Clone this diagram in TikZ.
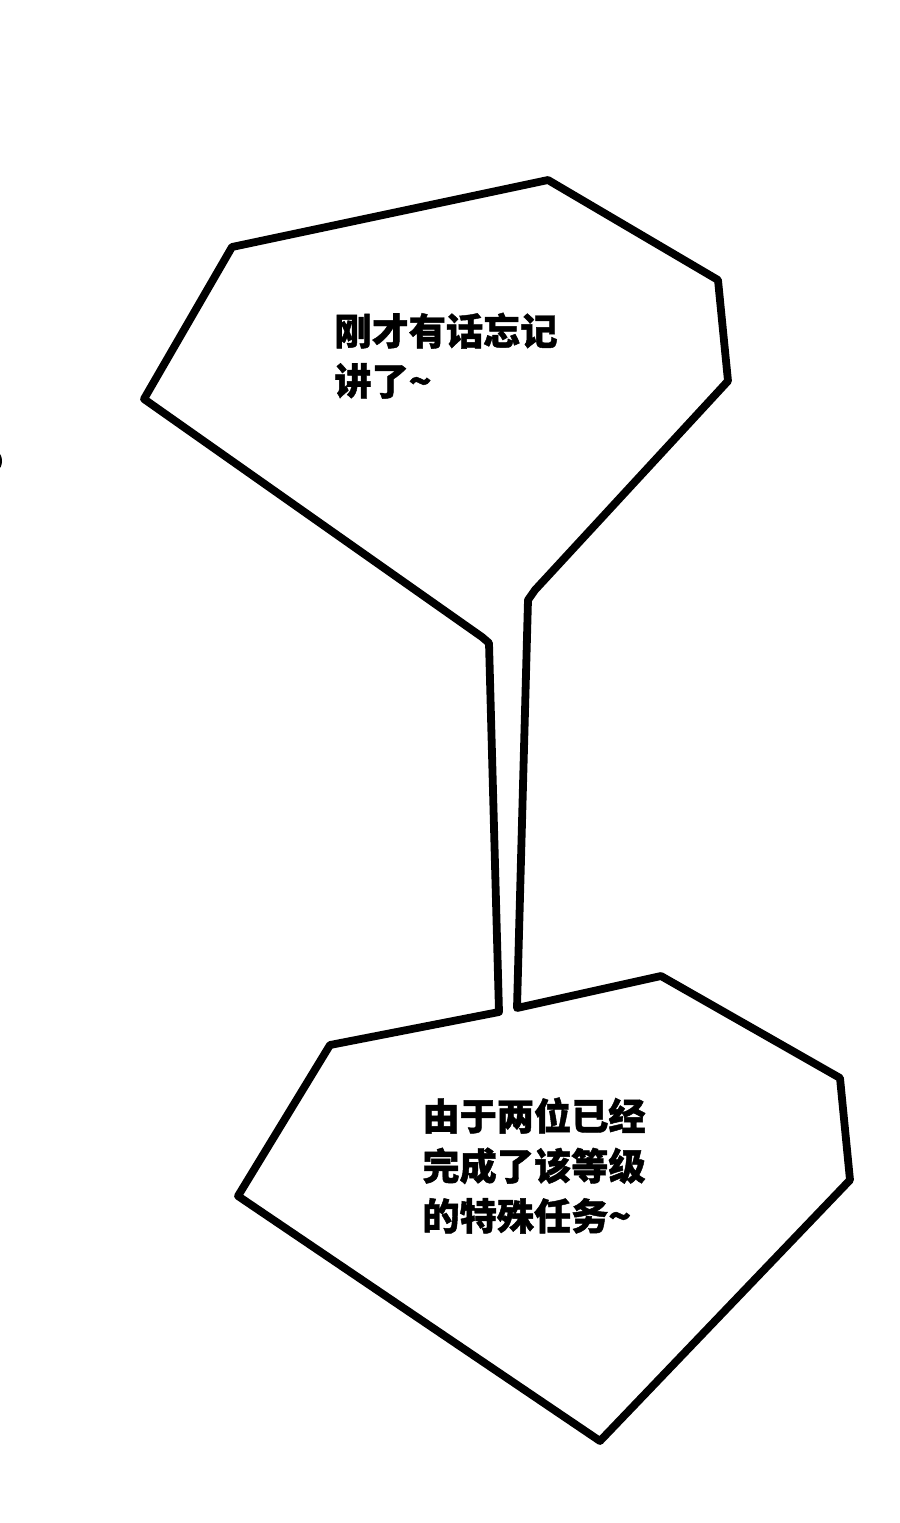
\documentclass[tikz,border=0pt]{standalone}
\usepackage{fontspec}
\newfontfamily\cjk{Noto Sans CJK SC}[BoldFeatures={FakeBold=1.2}]
\tikzset{
  bubble/.style={draw=black, line width=3.9pt, line join=round, line cap=round},
  speech/.style={font=\cjk\bfseries\fontsize{18.6}{25}\selectfont, inner sep=0pt, anchor=base west, text=black}
}
\begin{document}
\begin{tikzpicture}[x=0.5pt, y=-0.5pt]
\useasboundingbox[fill=white] (0,0) rectangle (900,1523);
% outline of both bubbles joined by the tail
\coordinate (tl1) at (499,1012);
\coordinate (tl2) at (489,643);
\coordinate (tl3) at (482,637);
\coordinate (a1) at (144,399);
\coordinate (a2) at (232,247);
\coordinate (a3) at (548,180);
\coordinate (a4) at (718,280);
\coordinate (a5) at (728,381);
\coordinate (tr1) at (535,590);
\coordinate (tr2) at (528,600);
\coordinate (tr3) at (517,1008);
\coordinate (b1) at (661,976);
\coordinate (b2) at (840,1078);
\coordinate (b3) at (850,1180);
\coordinate (b4) at (600,1441);
\coordinate (b5) at (238,1196);
\coordinate (b6) at (330,1045);
\draw[bubble] (tl1) -- (tl2) -- (tl3) -- (a1) -- (a2) -- (a3) -- (a4) -- (a5) -- (tr1) -- (tr2) -- (tr3) -- (b1) -- (b2) -- (b3) -- (b4) -- (b5) -- (b6) -- cycle;
% small mark at the left edge
\begin{scope}
\clip (0,0) rectangle (900,1523);
\fill[black] (-2,461) ellipse (4 and 8);
\end{scope}
% texts
\node[speech] (t1) at (334,345) {刚才有话忘记};
\node[speech] (t2) at (334,395) {讲了\char"007E};
\node[speech] (u1) at (422,1130) {由于两位已经};
\node[speech] (u2) at (422,1180) {完成了该等级};
\node[speech] (u3) at (422,1230) {的特殊任务\char"007E};
\end{tikzpicture}
\end{document}
